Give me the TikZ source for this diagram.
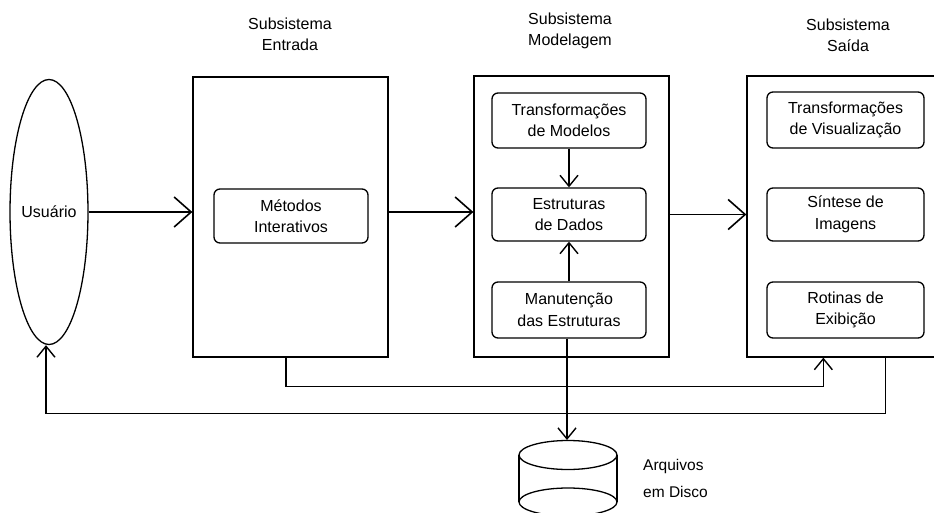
\documentclass[tikz,border=0pt]{standalone}
\usepackage{fontspec}
\setmainfont{Liberation Sans}
\usetikzlibrary{arrows.meta,shapes.geometric,calc}
\begin{document}
\begin{tikzpicture}[x=1pt,y=-1pt,
  every node/.style={font=\fontsize{16}{21.5}\selectfont, align=center, inner sep=0pt},
  outerbox/.style={draw, line width=1.3pt, minimum width=195pt, minimum height=281pt},
  innerbox/.style={draw, line width=1.3pt, rounded corners=6pt, minimum width=154pt, minimum height=54pt},
  title/.style={font=\fontsize{16}{21}\selectfont, align=center},
  bigarrow/.style={line width=1.6pt, -{Straight Barb[length=17pt,width=30pt,line width=1.6pt]}},
  smallarrow/.style={line width=1.4pt, -{Straight Barb[length=11pt,width=18pt,line width=1.4pt]}}
]
\useasboundingbox (0,0) rectangle (934,513);

% user
\node[draw, ellipse, line width=1.3pt, minimum width=70pt, minimum height=265pt] (usuario) at (49,212) {Usuário};

% titles
\node[title] (tEntrada) at (290,34) {Subsistema\\Entrada};
\node[title] (tModel) at (570,31) {Subsistema\\Modelagem};
\node[title] (tSaida) at (848,35) {Subsistema\\Saída};

% boxes
\node[outerbox, minimum height=280pt] (entrada) at (290.5,217) {};
\node[innerbox] (metodos) at (291,216) {Métodos\\Interativos};

\node[outerbox] (modelagem) at (571.5,216.5) {};
\node[innerbox, minimum height=55pt] (tmod) at (569,120.5) {Transformações\\de Modelos};
\node[innerbox, minimum height=53pt] (estr) at (569,214.5) {Estruturas\\de Dados};
\node[innerbox, minimum height=56pt] (manut) at (569,310) {Manutenção\\das Estruturas};

\node[outerbox, minimum width=200pt] (saida) at (847,216.5) {};
\node[innerbox, minimum width=157pt, minimum height=56pt] (tvis) at (845.5,120) {Transformações\\de Visualização};
\node[innerbox, minimum width=157pt, minimum height=53pt] (sint) at (845.5,214.5) {Síntese de\\Imagens};
\node[innerbox, minimum width=157pt, minimum height=56pt] (rot) at (845.5,310) {Rotinas de\\Exibição};

% disk
\coordinate (disktop) at (567,440);
\draw[line width=1.3pt] (519,455) -- (519,502) (617,455) -- (617,502);
\draw[line width=1.3pt] (568,455) ellipse [x radius=49pt, y radius=14.5pt];
\draw[line width=1.3pt] (568,502) ellipse [x radius=49pt, y radius=14pt];
\node[anchor=west, align=left, font=\fontsize{15.5}{27}\selectfont] (disklabel) at (643,478) {Arquivos\\em Disco};

% connectors
\draw[bigarrow] (usuario.east) -- (usuario.east -| entrada.west);
\draw[bigarrow] ([yshift=5pt]entrada.east) -- ([yshift=5pt]entrada.east -| modelagem.west);
\draw[bigarrow] ([yshift=2pt]modelagem.east) -- ([yshift=2pt]modelagem.east -| saida.west);

\draw[smallarrow] (tmod.south) -- (estr.north);
\draw[smallarrow] (manut.north) -- (estr.south);
\draw[smallarrow] (manut.south -| disktop) -- (disktop);

\coordinate (eOut) at ([xshift=-4.5pt]entrada.south);
\coordinate (sIn) at ([xshift=77pt]saida.south west);
\coordinate (sOut) at ([xshift=139pt]saida.south west);
\coordinate (c1) at ([yshift=-29pt]eOut);
\coordinate (c2) at ([yshift=-56pt]sOut);
\draw[smallarrow] (eOut) -- (c1) -| (sIn);
\draw[smallarrow] (sOut) -- (c2) -| ([xshift=-3pt]usuario.south);
\end{tikzpicture}
\end{document}
